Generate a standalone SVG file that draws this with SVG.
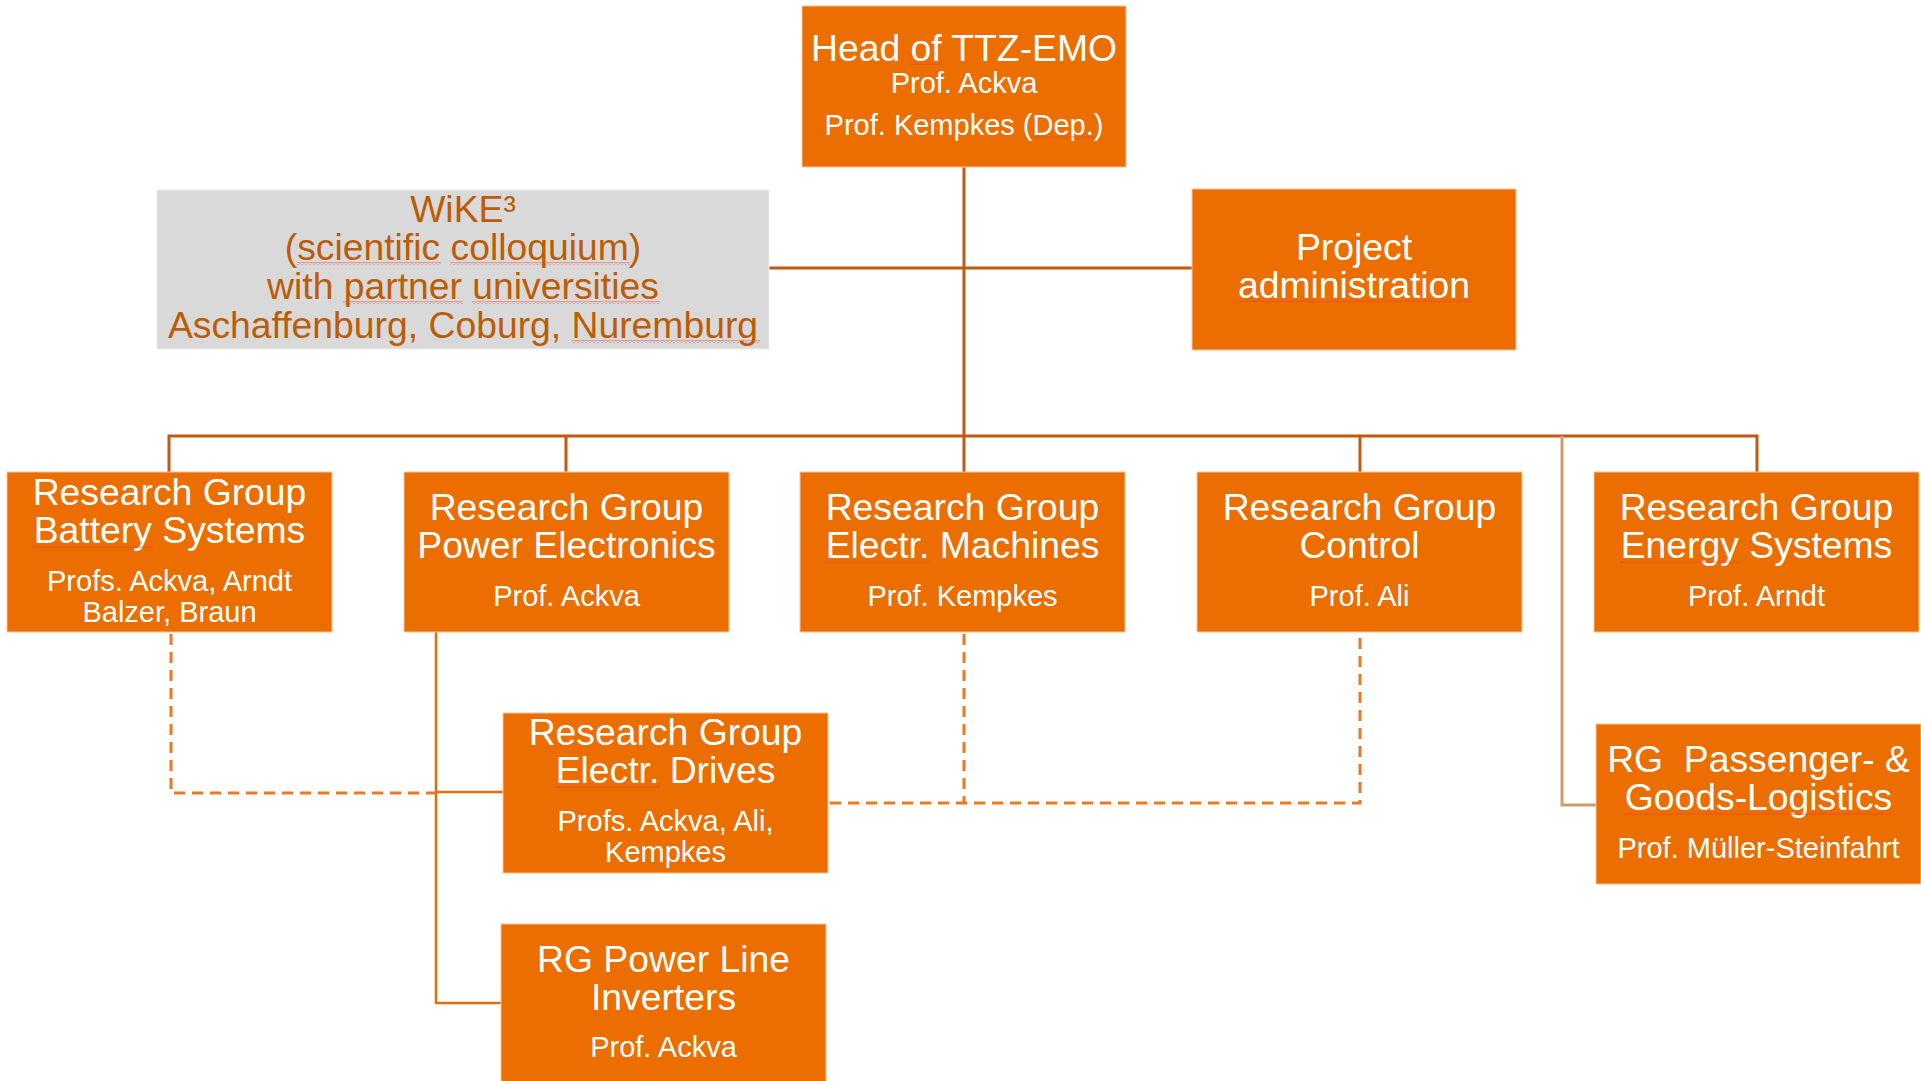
<svg xmlns="http://www.w3.org/2000/svg" width="1921" height="1081" viewBox="0 0 1921 1081">
<defs>
<pattern id="squig" patternUnits="userSpaceOnUse" width="4" height="3">
<path d="M0,2.5 L2,0.5 L4,2.5" fill="none" stroke="#e8403a" stroke-width="0.8"/>
</pattern>
</defs>
<style>
.box{fill:#ec6e00;stroke:#f7c39a;stroke-width:1}
.gray{fill:#d9d9d9;stroke:#ececec;stroke-width:1}
text{font-family:"Liberation Sans",Arial,sans-serif;text-anchor:middle}
.t{fill:#ffffff;font-size:37.3px}
.s{fill:#ffffff;font-size:29px}
.w{fill:#bd5c06;font-size:37.3px}
.sq{fill:url(#squig)}
.solid{fill:none;stroke:#c05a10;stroke-width:3}
.solid2{fill:none;stroke:#e46c0a;stroke-width:2.5}
.tan{fill:none;stroke:#d49a6a;stroke-width:3}
.dash{fill:none;stroke:#ee7722;stroke-width:3;stroke-dasharray:11 7}
</style>
<rect width="1921" height="1081" fill="#ffffff"/>
<g id="connectors">
<path class="solid" d="M964,167 V472"/>
<path class="solid" d="M769,268 H1192"/>
<path class="solid" d="M169,472 V436 H1757 V472"/>
<path class="solid" d="M566,436 V472"/>
<path class="solid" d="M1360,436 V472"/>
<path class="tan" d="M1562,436 V805 H1596"/>
<path class="solid2" d="M436,632 V1003 H501"/>
<path class="solid2" d="M436,792 H503"/>
<path class="dash" d="M171,634 V793 H436"/>
<path class="dash" d="M964,634 V803"/>
<path class="dash" d="M830,803 H1360 V634"/>
</g>
<g id="head">
<rect class="box" x="802" y="6" width="324" height="161"/>
<text class="t" x="964" y="61">Head of TTZ-EMO</text>
<text class="s" x="964" y="93">Prof. Ackva</text>
<text class="s" x="964" y="135">Prof. Kempkes (Dep.)</text>
<rect class="sq" x="910" y="62" width="32" height="3"/>
<rect class="sq" x="1032" y="136" width="62" height="3"/>
</g>
<g id="wike">
<rect class="gray" x="157" y="190" width="612" height="159"/>
<text class="w" x="463" y="222">WiKE³</text>
<text class="w" x="463" y="260">(scientific colloquium)</text>
<text class="w" x="463" y="299">with partner universities</text>
<text class="w" x="463" y="338">Aschaffenburg, Coburg, Nuremburg</text>
<rect class="sq" x="297" y="262" width="144" height="3"/>
<rect class="sq" x="450" y="262" width="180" height="3"/>
<rect class="sq" x="343" y="301" width="120" height="3"/>
<rect class="sq" x="472" y="301" width="188" height="3"/>
<rect class="sq" x="572" y="340" width="188" height="3"/>
</g>
<g id="project-admin">
<rect class="box" x="1192" y="189" width="324" height="161"/>
<text class="t" x="1354" y="260">Project</text>
<text class="t" x="1354" y="298">administration</text>
<rect class="sq" x="1237" y="300" width="234" height="3"/>
</g>
<g id="rg-battery">
<rect class="box" x="7" y="472" width="325" height="160"/>
<text class="t" x="169.5" y="505">Research Group</text>
<text class="t" x="169.5" y="543">Battery Systems</text>
<text class="s" x="169.5" y="591">Profs. Ackva, Arndt</text>
<text class="s" x="169.5" y="622">Balzer, Braun</text>
<rect class="sq" x="33" y="545" width="120" height="3"/>
</g>
<g id="rg-power-electronics">
<rect class="box" x="404" y="472" width="325" height="160"/>
<text class="t" x="566.5" y="520">Research Group</text>
<text class="t" x="566.5" y="558">Power Electronics</text>
<text class="s" x="566.5" y="606">Prof. Ackva</text>
</g>
<g id="rg-machines">
<rect class="box" x="800" y="472" width="325" height="160"/>
<text class="t" x="962.5" y="520">Research Group</text>
<text class="t" x="962.5" y="558">Electr. Machines</text>
<text class="s" x="962.5" y="606">Prof. Kempkes</text>
<rect class="sq" x="824" y="560" width="106" height="3"/>
</g>
<g id="rg-control">
<rect class="box" x="1197" y="472" width="325" height="160"/>
<text class="t" x="1359.5" y="520">Research Group</text>
<text class="t" x="1359.5" y="558">Control</text>
<text class="s" x="1359.5" y="606">Prof. Ali</text>
</g>
<g id="rg-energy">
<rect class="box" x="1594" y="472" width="325" height="160"/>
<text class="t" x="1756.5" y="520">Research Group</text>
<text class="t" x="1756.5" y="558">Energy Systems</text>
<text class="s" x="1756.5" y="606">Prof. Arndt</text>
<rect class="sq" x="1620" y="560" width="120" height="3"/>
</g>
<g id="rg-drives">
<rect class="box" x="503" y="713" width="325" height="160"/>
<text class="t" x="665.5" y="745">Research Group</text>
<text class="t" x="665.5" y="783">Electr. Drives</text>
<text class="s" x="665.5" y="831">Profs. Ackva, Ali,</text>
<text class="s" x="665.5" y="862">Kempkes</text>
<rect class="sq" x="554" y="785" width="106" height="3"/>
</g>
<g id="rg-power-line">
<rect class="box" x="501" y="924" width="325" height="160"/>
<text class="t" x="663.5" y="972">RG Power Line</text>
<text class="t" x="663.5" y="1010">Inverters</text>
<text class="s" x="663.5" y="1057">Prof. Ackva</text>
</g>
<g id="rg-logistics">
<rect class="box" x="1596" y="724" width="325" height="160"/>
<text class="t" x="1758.5" y="772" xml:space="preserve">RG  Passenger- &amp;</text>
<text class="t" x="1758.5" y="810">Goods-Logistics</text>
<text class="s" x="1758.5" y="858">Prof. Müller-Steinfahrt</text>
<rect class="sq" x="1624" y="812" width="268" height="3"/>
</g>
</svg>
